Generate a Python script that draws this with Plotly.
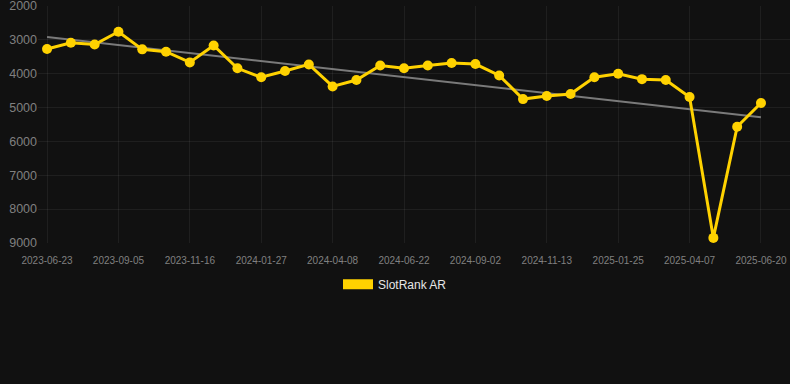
import numpy as np
import plotly.graph_objects as go

dates = ["2023-06-23", "2023-07-17", "2023-08-11", "2023-09-05", "2023-09-29", "2023-10-23",
         "2023-11-16", "2023-12-10", "2024-01-03", "2024-01-27", "2024-02-20", "2024-03-15",
         "2024-04-08", "2024-05-03", "2024-05-28", "2024-06-22", "2024-07-16", "2024-08-09",
         "2024-09-02", "2024-09-26", "2024-10-20", "2024-11-13", "2024-12-07", "2024-12-31",
         "2025-01-25", "2025-02-18", "2025-03-14", "2025-04-07", "2025-05-01", "2025-05-26",
         "2025-06-20"]
ranks = [3270, 3085, 3135, 2760, 3280, 3350, 3665, 3165, 3840, 4105, 3920, 3725,
         4375, 4185, 3755, 3840, 3755, 3685, 3715, 4050, 4750, 4660, 4600, 4105,
         4000, 4160, 4185, 4690, 8850, 5565, 4865]
tick_labels = dates[::3]
y_ticks = [2000, 3000, 4000, 5000, 6000, 7000, 8000, 9000]
series_name = "SlotRank AR"

idx = np.arange(len(ranks))
slope, intercept = np.polyfit(idx, ranks, 1)
trend = slope * idx + intercept

YELLOW = "#FFD200"
BG = "#111111"
GRID = "rgba(255,255,255,0.06)"
TICK = "#808080"

fig = go.Figure()
fig.add_trace(go.Scatter(
    x=dates, y=trend, mode="lines",
    line=dict(color="#7a7a7a", width=2),
    showlegend=False, hoverinfo="skip"))
fig.add_trace(go.Scatter(
    x=dates, y=ranks, mode="lines+markers",
    line=dict(color=YELLOW, width=3),
    marker=dict(color=YELLOW, size=10),
    showlegend=False, name=series_name))
fig.add_trace(go.Scatter(
    x=[None], y=[None], mode="lines",
    line=dict(color=YELLOW, width=12),
    name=series_name, showlegend=True))

fig.update_layout(
    width=790, height=384,
    paper_bgcolor=BG, plot_bgcolor=BG,
    margin=dict(l=38, r=0, t=6, b=141),
    font=dict(family="Liberation Sans, Arial, sans-serif", color=TICK),
    legend=dict(orientation="h", xref="container", yref="container",
                x=0.5, xanchor="center", y=0.26, yanchor="middle",
                font=dict(size=12, color="#e6e6e6"), bgcolor="rgba(0,0,0,0)"),
    xaxis=dict(type="category", range=[-0.38, len(dates) - 1 + 1.22],
               tickvals=tick_labels, ticktext=tick_labels,
               tickfont=dict(size=10, color=TICK), tickangle=0,
               showgrid=True, gridcolor=GRID, gridwidth=1,
               zeroline=False, showline=False, ticks="", ticklabelstandoff=10,
               ticklabeloverflow="allow"),
    yaxis=dict(range=[9001, 1999], tickvals=y_ticks,
               tickfont=dict(size=12.5, color=TICK),
               showgrid=True, gridcolor=GRID, gridwidth=1,
               zeroline=False, showline=False, ticks="", ticklabelstandoff=0,
               ticklabeloverflow="allow"),
)

fig.write_html("out.html", config={"displayModeBar": False},
               post_script="document.body.style.margin='0';document.body.style.background='#111111';")
